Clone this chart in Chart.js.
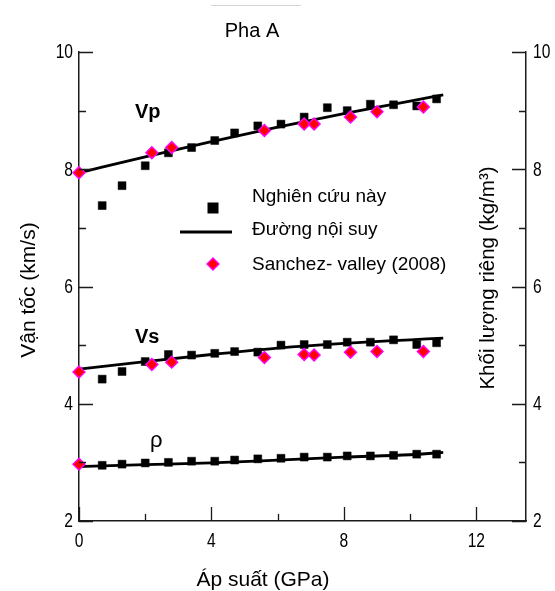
<!DOCTYPE html>
<html>
<head>
<meta charset="utf-8">
<script src="https://cdn.jsdelivr.net/npm/chart.js@4"></script>
<style>
  html, body { margin: 0; padding: 0; background: #fff; }
  canvas { display: block; }
</style>
</head>
<body>
<canvas id="c" width="555" height="591"></canvas>
<script>
// Measured series (this study)
const pressureMeasured = [0.7, 1.3, 2.0, 2.7, 3.4, 4.1, 4.7, 5.4, 6.1, 6.8, 7.5, 8.1, 8.8, 9.5, 10.2, 10.8];
const vpMeasured  = [7.38, 7.72, 8.06, 8.28, 8.37, 8.49, 8.62, 8.74, 8.77, 8.89, 9.05, 9.00, 9.11, 9.10, 9.08, 9.20];
const vsMeasured  = [4.42, 4.55, 4.72, 4.84, 4.83, 4.86, 4.89, 4.88, 5.00, 5.01, 5.01, 5.05, 5.05, 5.09, 5.01, 5.04];
const rhoMeasured = [2.95, 2.97, 2.99, 3.00, 3.02, 3.02, 3.04, 3.06, 3.07, 3.09, 3.09, 3.11, 3.11, 3.12, 3.14, 3.14];

// Sanchez-Valle (2008)
const pressureSanchez = [0, 2.2, 2.8, 5.6, 6.8, 7.1, 8.2, 9.0, 10.4];
const vpSanchez = [7.94, 8.28, 8.37, 8.66, 8.77, 8.77, 8.89, 8.98, 9.06];
const vsSanchez = [4.54, 4.67, 4.71, 4.79, 4.84, 4.83, 4.88, 4.89, 4.89];
const pressureSanchezRho = [0];
const rhoSanchez = [2.97];

// Fitted curves
const pressureFit = [0, 2, 4, 6, 8, 10, 11];
const vpFit  = [7.94, 8.21, 8.47, 8.72, 8.95, 9.16, 9.27];
const vsFit  = [4.59, 4.72, 4.84, 4.95, 5.03, 5.09, 5.12];
const rhoFit = [2.93, 2.96, 2.99, 3.04, 3.09, 3.13, 3.17];

// Axes
const xTickValues = [0, 4, 8, 12];
const yTickValues = [2, 4, 6, 8, 10];
const xRange = [0, 13.5];
const yRange = [2, 10];

// Text
const chartTitle = 'Pha A';
const xTitle = 'Áp suất (GPa)';
const yTitle = 'Vận tốc (km/s)';
const y2Title = 'Khối lượng riêng (kg/m³)';
const labelMeasured = 'Nghiên cứu này';
const labelFit = 'Đường nội suy';
const labelSanchez = 'Sanchez- valley (2008)';
const seriesNames = ['Vp', 'Vs', 'ρ'];

const SANS = "'Liberation Sans', Arial, sans-serif";

const pts = (xs, ys) => xs.map((x, i) => ({ x: x, y: ys[i] }));

const squareStyle = {
  showLine: false, pointStyle: 'rect', pointRadius: 5.6, pointHoverRadius: 5.6,
  pointBackgroundColor: '#000', pointBorderColor: '#000', pointBorderWidth: 0.5,
  order: 2, clip: false
};
const diamondStyle = {
  showLine: false, pointStyle: 'rectRot', pointRadius: 6, pointHoverRadius: 6,
  pointBackgroundColor: '#ff0000', pointBorderColor: '#ff00ff', pointBorderWidth: 1.4,
  order: 0, clip: false
};
const fitStyle = {
  showLine: true, pointRadius: 0, borderColor: '#000', borderWidth: 2.8,
  cubicInterpolationMode: 'monotone', fill: false, order: 1, clip: false
};

const datasets = [
  Object.assign({ label: labelMeasured, data: pts(pressureMeasured, vpMeasured), yAxisID: 'y' }, squareStyle),
  Object.assign({ label: labelMeasured, data: pts(pressureMeasured, vsMeasured), yAxisID: 'y' }, squareStyle),
  Object.assign({ label: labelMeasured, data: pts(pressureMeasured, rhoMeasured), yAxisID: 'y2' }, squareStyle),
  Object.assign({ label: labelFit, data: pts(pressureFit, vpFit), yAxisID: 'y' }, fitStyle),
  Object.assign({ label: labelFit, data: pts(pressureFit, vsFit), yAxisID: 'y' }, fitStyle),
  Object.assign({ label: labelFit, data: pts(pressureFit, rhoFit), yAxisID: 'y2' }, fitStyle),
  Object.assign({ label: labelSanchez, data: pts(pressureSanchez, vpSanchez), yAxisID: 'y' }, diamondStyle),
  Object.assign({ label: labelSanchez, data: pts(pressureSanchez, vsSanchez), yAxisID: 'y' }, diamondStyle),
  Object.assign({ label: labelSanchez, data: pts(pressureSanchezRho, rhoSanchez), yAxisID: 'y2' }, diamondStyle)
];

const AXIS_COLOR = '#1a1a1a';

// narrow numerals for the tick labels
function narrowText(ctx, text, x, y, align) {
  ctx.save();
  ctx.translate(x, y);
  ctx.scale(0.8, 1);
  ctx.textAlign = align;
  ctx.textBaseline = 'middle';
  ctx.font = '19.5px ' + SANS;
  ctx.fillText(text, 0, 0);
  ctx.restore();
}

// Inward ticks, tick labels, titles, in-plot labels and legend
const decorations = {
  id: 'decorations',
  afterDraw(chart) {
    const ctx = chart.ctx;
    const a = chart.chartArea;
    const sx = chart.scales.x, sy = chart.scales.y, sy2 = chart.scales.y2;
    ctx.save();

    // thin separator above the title
    ctx.strokeStyle = '#d4d4d4';
    ctx.lineWidth = 1;
    ctx.beginPath();
    ctx.moveTo(211, 5.5); ctx.lineTo(301, 5.5);
    ctx.stroke();

    // ticks pointing into the plot
    ctx.strokeStyle = AXIS_COLOR;
    ctx.lineWidth = 1.3;
    ctx.beginPath();
    for (let v = yRange[0]; v <= yRange[1]; v += 1) {
      const len = (v % 2 === 0) ? 14 : 7;
      const py = Math.round(sy.getPixelForValue(v)) + 0.5;
      ctx.moveTo(a.left, py); ctx.lineTo(a.left + len, py);
      const py2 = Math.round(sy2.getPixelForValue(v)) + 0.5;
      ctx.moveTo(a.right, py2); ctx.lineTo(a.right - len, py2);
    }
    for (let v = 0; v <= 12; v += 2) {
      const len = (v % 4 === 0) ? 14 : 7;
      const px = Math.round(sx.getPixelForValue(v)) + 0.5;
      ctx.moveTo(px, a.bottom); ctx.lineTo(px, a.bottom - len);
    }
    ctx.stroke();

    // tick labels
    ctx.fillStyle = '#000';
    yTickValues.forEach(v => {
      narrowText(ctx, String(v), a.left - 6, sy.getPixelForValue(v) + 1, 'right');
      narrowText(ctx, String(v), a.right + 7, sy2.getPixelForValue(v) + 1, 'left');
    });
    xTickValues.forEach(v => {
      narrowText(ctx, String(v), sx.getPixelForValue(v), a.bottom + 21, 'center');
    });

    ctx.textAlign = 'center';
    ctx.textBaseline = 'alphabetic';

    // chart title
    ctx.font = '20px ' + SANS;
    ctx.fillText(chartTitle, 252, 37);

    // x axis title
    ctx.font = '21px ' + SANS;
    ctx.fillText(xTitle, 263, 586);

    // y axis titles (rotated)
    ctx.save();
    ctx.translate(35, 290);
    ctx.rotate(-Math.PI / 2);
    ctx.fillText(yTitle, 0, 0);
    ctx.restore();

    ctx.save();
    ctx.font = '20.5px ' + SANS;
    ctx.translate(494, 278);
    ctx.rotate(-Math.PI / 2);
    ctx.fillText(y2Title, 0, 0);
    ctx.restore();

    // series names inside the plot
    ctx.textAlign = 'left';
    ctx.font = 'bold 20px ' + SANS;
    ctx.fillText(seriesNames[0], 135, 118);
    ctx.fillText(seriesNames[1], 135, 343);
    ctx.font = '22px ' + SANS;
    ctx.fillText(seriesNames[2], 150, 447);

    // legend
    ctx.font = '19px ' + SANS;
    ctx.fillText(labelMeasured, 252, 202);
    ctx.fillText(labelFit, 252, 235);
    ctx.fillText(labelSanchez, 252, 270);

    ctx.fillStyle = '#000';
    ctx.fillRect(207.5, 202.5, 11, 11);

    ctx.strokeStyle = '#000';
    ctx.lineWidth = 2.8;
    ctx.beginPath();
    ctx.moveTo(180, 232); ctx.lineTo(232, 232);
    ctx.stroke();

    ctx.beginPath();
    ctx.moveTo(213, 258); ctx.lineTo(219, 264); ctx.lineTo(213, 270); ctx.lineTo(207, 264);
    ctx.closePath();
    ctx.fillStyle = '#ff0000';
    ctx.fill();
    ctx.strokeStyle = '#ff00ff';
    ctx.lineWidth = 1.4;
    ctx.stroke();

    ctx.restore();
  }
};

new Chart(document.getElementById('c'), {
  type: 'scatter',
  data: { datasets: datasets },
  options: {
    responsive: false,
    animation: false,
    layout: { padding: { top: 52, left: 0, right: 0, bottom: 0 } },
    plugins: { legend: { display: false }, tooltip: { enabled: false }, title: { display: false } },
    scales: {
      x: {
        type: 'linear', position: 'bottom', min: xRange[0], max: xRange[1],
        afterBuildTicks: s => { s.ticks = xTickValues.map(v => ({ value: v })); },
        afterFit: s => { s.height = 70; },
        grid: { display: false, drawTicks: false },
        border: { display: true, color: AXIS_COLOR, width: 1.5 },
        ticks: { display: false }
      },
      y: {
        type: 'linear', position: 'left', min: yRange[0], max: yRange[1],
        afterBuildTicks: s => { s.ticks = yTickValues.map(v => ({ value: v })); },
        afterFit: s => { s.width = 79; },
        grid: { display: false, drawTicks: false },
        border: { display: true, color: AXIS_COLOR, width: 1.5 },
        ticks: { display: false }
      },
      y2: {
        type: 'linear', position: 'right', min: yRange[0], max: yRange[1],
        afterBuildTicks: s => { s.ticks = yTickValues.map(v => ({ value: v })); },
        afterFit: s => { s.width = 29; },
        grid: { display: false, drawTicks: false },
        border: { display: true, color: AXIS_COLOR, width: 1.5 },
        ticks: { display: false }
      }
    }
  },
  plugins: [decorations]
});
</script>
</body>
</html>
